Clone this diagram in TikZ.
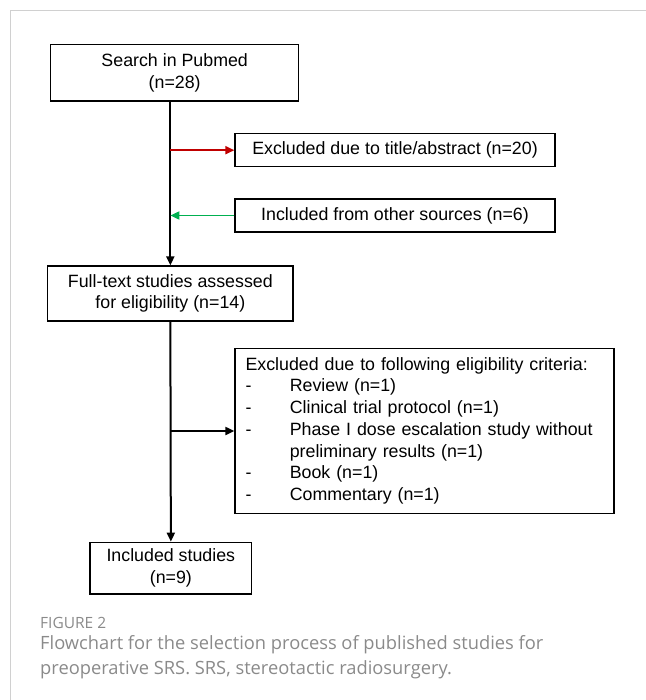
\documentclass[tikz,border=0pt]{standalone}
\usepackage{fontspec}
\setmainfont{Liberation Sans}
\newfontfamily\capfont{Open Sans}
\usetikzlibrary{arrows.meta}
\definecolor{exred}{HTML}{C00000}
\definecolor{ingreen}{HTML}{00B050}
\definecolor{capgray}{HTML}{8A8A8A}
\definecolor{framegray}{HTML}{D0D0D0}
\begin{document}
\begin{tikzpicture}[x=1bp, y=-1bp,
    box/.style={draw, line width=1.3bp, inner sep=0pt, align=center,
      font=\fontsize{17.8bp}{21.7bp}\selectfont},
    flow/.style={line width=2bp, -{Triangle[length=9bp,width=8bp]}},
    side/.style={line width=1.8bp, -{Triangle[length=9bp,width=8bp]}}]
  \useasboundingbox (0,0) rectangle (646,700);
  % card frame
  \draw[framegray, line width=1bp] (646,11) -- (10,11) -- (10,700);

  % boxes
  \node[box, minimum width=248bp, minimum height=56.7bp] (search) at (174.7,72.65)
    {Search in Pubmed\\(n=28)};
  \node[box, minimum width=320bp, minimum height=33bp] (title) at (395,150.2)
    {Excluded due to title/abstract (n=20)};
  \node[box, minimum width=320bp, minimum height=33bp] (other) at (395,215.5)
    {Included from other sources (n=6)};
  \node[box, minimum width=245.3bp, minimum height=55bp] (full) at (170.35,293.5)
    {Full-text studies assessed\\for eligibility (n=14)};
  \node[box, minimum width=379bp, minimum height=165.4bp, text width=358bp,
    align=left] (crit) at (424.5,431)
    {\begin{tabular}{@{}p{44.3bp}@{}l@{}}
     \multicolumn{2}{@{}l@{}}{Excluded due to following eligibility criteria:}\\
     - & Review (n=1)\\
     - & Clinical trial protocol (n=1)\\
     - & Phase I dose escalation study without\\
       & preliminary results (n=1)\\
     - & Book (n=1)\\
     - & Commentary (n=1)
     \end{tabular}};
  \node[box, minimum width=161.7bp, minimum height=51.7bp] (incl) at (170.85,568.15)
    {Included studies\\(n=9)};

  % connectors
  \draw[flow] (search.south -| full.north) -- (full.north);
  \draw[side, exred] (title.west -| full.north) -- (title.west);
  \draw[side, ingreen] (other.west) -- (other.west -| full.north);
  \draw[flow] (full.south) -- (incl.north);
  \draw[side, line width=2bp] (full.south |- crit.west) -- (crit.west);

  % caption
  \node[anchor=west, text=capgray, inner sep=0pt,
    font=\capfont\fontsize{15.5bp}{18bp}\selectfont] (fig) at (40,622.7) {FIGURE 2};
  \node[anchor=west, text=capgray, inner sep=0pt, align=left,
    font=\capfont\fontsize{18.3bp}{24.3bp}\selectfont] (cap) at (40,657.2)
    {Flowchart for the selection process of published studies for\\
     preoperative SRS. SRS, stereotactic radiosurgery.};
\end{tikzpicture}
\end{document}
